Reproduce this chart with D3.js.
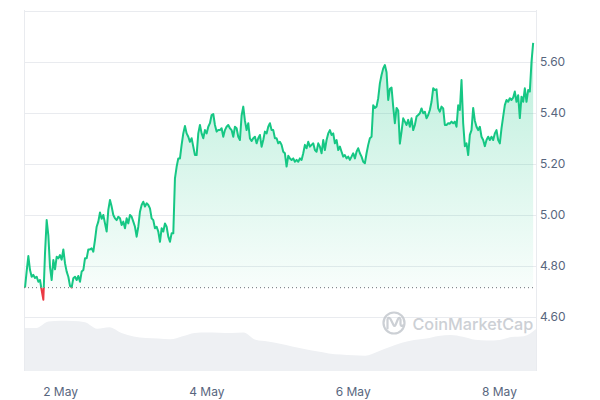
<!DOCTYPE html>
<html>
<head>
<meta charset="utf-8">
<script src="https://cdn.jsdelivr.net/npm/d3@7"></script>
<style>
  html, body { margin: 0; padding: 0; background: #fff; }
  svg { display: block; font-family: Inter, "Noto Sans", sans-serif; }
</style>
</head>
<body>
<svg id="chart" width="600" height="400"></svg>
<script>
// ---------- data ----------
const domainStart = Date.UTC(2024, 4, 1, 12, 0);
const domainEnd = Date.UTC(2024, 4, 8, 12, 0);
const priceStart = Date.UTC(2024, 4, 1, 12, 20);
const priceStepMin = 32.8;
const baselinePrice = 4.715;

const prices = [
  4.715, 4.78, 4.839, 4.784, 4.758, 4.765, 4.753, 4.758, 4.738, 4.745,
  4.705, 4.668, 4.85, 4.98, 4.92, 4.797, 4.745, 4.824, 4.787, 4.836,
  4.83, 4.843, 4.825, 4.865, 4.811, 4.778, 4.758, 4.722, 4.716, 4.752,
  4.758, 4.745, 4.761, 4.738, 4.778, 4.784, 4.83, 4.83, 4.865, 4.865,
  4.869, 4.856, 4.902, 4.954, 4.974, 5.01, 4.985, 5.0, 4.967, 4.935,
  5.02, 5.059, 5.033, 5.0, 4.987, 4.98, 4.993, 4.987, 4.961, 4.974,
  4.948, 4.987, 4.967, 5.0, 4.993, 4.974, 4.954, 4.915, 4.954, 5.013,
  5.039, 5.052, 5.033, 5.046, 5.039, 5.026, 4.987, 4.98, 4.948, 4.954,
  4.935, 4.895, 4.948, 4.935, 4.967, 4.954, 4.915, 4.895, 4.928, 4.928,
  5.144, 5.189, 5.222, 5.222, 5.275, 5.32, 5.349, 5.32, 5.307, 5.287,
  5.301, 5.268, 5.235, 5.235, 5.32, 5.353, 5.32, 5.301, 5.333, 5.32,
  5.346, 5.36, 5.392, 5.396, 5.353, 5.327, 5.333, 5.333, 5.34, 5.307,
  5.333, 5.346, 5.353, 5.34, 5.333, 5.307, 5.346, 5.34, 5.307, 5.294,
  5.39, 5.425, 5.37, 5.333, 5.36, 5.30, 5.29, 5.301, 5.307, 5.281,
  5.301, 5.314, 5.268, 5.294, 5.327, 5.32, 5.346, 5.36, 5.333, 5.333,
  5.301, 5.301, 5.281, 5.287, 5.275, 5.248, 5.242, 5.19, 5.232, 5.222,
  5.216, 5.222, 5.209, 5.216, 5.209, 5.222, 5.216, 5.242, 5.275, 5.262,
  5.287, 5.268, 5.275, 5.281, 5.255, 5.248, 5.281, 5.268, 5.242, 5.294,
  5.255, 5.294, 5.32, 5.333, 5.314, 5.32, 5.281, 5.294, 5.255, 5.268,
  5.248, 5.229, 5.235, 5.222, 5.229, 5.216, 5.229, 5.242, 5.222, 5.248,
  5.262, 5.242, 5.229, 5.209, 5.203, 5.242, 5.275, 5.301, 5.307, 5.43,
  5.42, 5.425, 5.458, 5.516, 5.549, 5.575, 5.588, 5.56, 5.451, 5.495,
  5.50, 5.425, 5.36, 5.42, 5.41, 5.28, 5.327, 5.379, 5.366, 5.353,
  5.373, 5.346, 5.379, 5.333, 5.353, 5.386, 5.392, 5.399, 5.418, 5.399,
  5.405, 5.379, 5.392, 5.412, 5.444, 5.497, 5.49, 5.493, 5.418, 5.405,
  5.425, 5.418, 5.353, 5.353, 5.36, 5.358, 5.366, 5.36, 5.366, 5.346,
  5.43, 5.412, 5.529, 5.36, 5.27, 5.281, 5.235, 5.314, 5.333, 5.42,
  5.37, 5.346, 5.333, 5.346, 5.307, 5.294, 5.27, 5.294, 5.307, 5.294,
  5.307, 5.294, 5.32, 5.333, 5.294, 5.281, 5.34, 5.386, 5.431, 5.451,
  5.444, 5.458, 5.451, 5.46, 5.484, 5.444, 5.47, 5.38, 5.464, 5.444,
  5.497, 5.444, 5.49, 5.484, 5.60, 5.675
];

const volumeStepHours = 4;
const volumes = [
  43, 43, 49.5, 50.2, 50, 48.7, 42.3, 43.7, 38, 34.5,
  33, 32.5, 31.7, 34.7, 38, 38.5, 38.3, 38, 38.5, 31.2,
  29.5, 27.2, 24.5, 22, 19.7, 17.6, 16.4, 15.7, 15.3, 19.3,
  24, 28.2, 31, 32.4, 35, 36, 34.2, 31.2, 30.4, 31,
  34, 34.8, 42
];

const yTicks = [4.6, 4.8, 5.0, 5.2, 5.4, 5.6, 5.8];
const yTickLabels = ["4.60", "4.80", "5.00", "5.20", "5.40", "5.60", ""];
const xTickDates = [Date.UTC(2024, 4, 2), Date.UTC(2024, 4, 4), Date.UTC(2024, 4, 6), Date.UTC(2024, 4, 8)];
const xTickLabels = ["2 May", "4 May", "6 May", "8 May"];

// ---------- build ----------
const priceData = prices.map((p, i) => ({ t: new Date(priceStart + i * priceStepMin * 60000), v: p }));
const volData = volumes.map((v, i) => ({ t: new Date(domainStart + i * volumeStepHours * 3600000), v }));

const svg = d3.select("#chart");
const padL = 24, padR = 536, padT = 10, padB = 371;

const x = d3.scaleUtc().domain([new Date(domainStart), new Date(domainEnd)]).range([padL, padR]);
const y = d3.scaleLinear().domain([4.6, 5.6]).range([317, 62]);
const yVol = d3.scaleLinear().domain([0, 60]).range([padB, padB - 60]);

const green = "#16c784", red = "#ea3943";
const defs = svg.append("defs");
const baseY = y(baselinePrice);

const grad = defs.append("linearGradient").attr("id", "gGrad")
  .attr("gradientUnits", "userSpaceOnUse").attr("x1", 0).attr("x2", 0)
  .attr("y1", y(5.7)).attr("y2", baseY);
grad.append("stop").attr("offset", "0%").attr("stop-color", green).attr("stop-opacity", 0.3);
grad.append("stop").attr("offset", "100%").attr("stop-color", green).attr("stop-opacity", 0.03);

defs.append("clipPath").attr("id", "clipAbove").append("rect")
  .attr("x", padL).attr("y", 0).attr("width", padR - padL + 2).attr("height", baseY);
defs.append("clipPath").attr("id", "clipBelow").append("rect")
  .attr("x", padL).attr("y", baseY).attr("width", padR - padL + 2).attr("height", 400 - baseY);

// volume area
svg.append("path").datum(volData)
  .attr("fill", "#eef0f3")
  .attr("d", d3.area().x(d => x(d.t)).y0(padB).y1(d => yVol(d.v)).curve(d3.curveMonotoneX));

// gridlines
svg.append("g").selectAll("line").data(yTicks).join("line")
  .attr("x1", padL).attr("x2", padR)
  .attr("y1", d => Math.round(y(d)) + 0.5).attr("y2", d => Math.round(y(d)) + 0.5)
  .attr("stroke", "#e9ebef").attr("stroke-width", 1);

// borders
svg.append("line").attr("x1", padL + 0.5).attr("x2", padL + 0.5).attr("y1", padT).attr("y2", padB)
  .attr("stroke", "#e9ebef");
svg.append("line").attr("x1", padR + 0.5).attr("x2", padR + 0.5).attr("y1", padT).attr("y2", padB)
  .attr("stroke", "#e9ebef");

// watermark
const wm = svg.append("g").attr("opacity", 0.85);
wm.append("circle").attr("cx", 394).attr("cy", 323).attr("r", 10.5)
  .attr("fill", "none").attr("stroke", "#c4c8ce").attr("stroke-width", 2.2);
wm.append("path")
  .attr("d", "M387.5,328.5 L387.5,319.5 Q388,316.5 390.5,319 L393.5,325 Q394.5,327 395.5,325 L398,319 Q399.5,316.5 400.5,319.5 L400.5,324 Q401,327 403,325.5")
  .attr("fill", "none").attr("stroke", "#c4c8ce").attr("stroke-width", 2.2)
  .attr("stroke-linecap", "round").attr("stroke-linejoin", "round");
wm.append("text").attr("x", 412.5).attr("y", 329.5)
  .attr("font-size", 16.2).attr("fill", "#c4c8ce").attr("font-weight", 500)
  .text("CoinMarketCap");

// price area (above baseline)
const area = d3.area().x(d => x(d.t)).y0(baseY).y1(d => y(d.v));
svg.append("path").datum(priceData)
  .attr("clip-path", "url(#clipAbove)")
  .attr("fill", "url(#gGrad)").attr("d", area);

// baseline dotted
svg.append("line").attr("x1", padL).attr("x2", padR)
  .attr("y1", baseY).attr("y2", baseY)
  .attr("stroke", "#6b6f76").attr("stroke-width", 1).attr("stroke-dasharray", "1,3");

// price line
const line = d3.line().x(d => x(d.t)).y(d => y(d.v));
svg.append("path").datum(priceData)
  .attr("clip-path", "url(#clipAbove)")
  .attr("fill", "none").attr("stroke", green).attr("stroke-width", 2)
  .attr("stroke-linejoin", "round").attr("d", line);
svg.append("path").datum(priceData)
  .attr("clip-path", "url(#clipBelow)")
  .attr("fill", "none").attr("stroke", red).attr("stroke-width", 2)
  .attr("stroke-linejoin", "round").attr("d", line);

// y labels
svg.append("g").selectAll("text").data(yTicks).join("text")
  .attr("x", 540).attr("y", d => y(d)).attr("dy", "0.35em")
  .attr("font-size", 12).attr("fill", "#58667e")
  .text((d, i) => yTickLabels[i]);

// x labels
svg.append("g").selectAll("text").data(xTickDates).join("text")
  .attr("x", d => x(new Date(d))).attr("y", 396)
  .attr("text-anchor", "middle").attr("font-size", 12).attr("fill", "#58667e")
  .text((d, i) => xTickLabels[i]);
</script>
</body>
</html>
